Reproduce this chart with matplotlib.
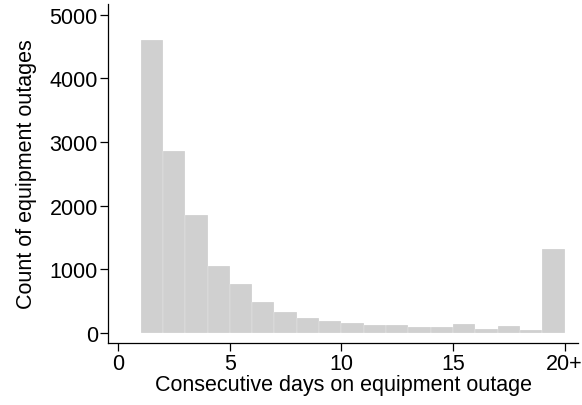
import matplotlib.pyplot as plt
import numpy as np

plt.rcParams['font.family'] = ['Liberation Sans', 'DejaVu Sans']

# bin left edges (days), last bin is 20+
bin_left = np.arange(1, 20)
counts = [4604, 2862, 1857, 1057, 774, 491, 334, 240, 195,
          162, 130, 130, 99, 99, 146, 67, 115, 58, 1323]
xtick_vals = [0, 5, 10, 15, 20]
xtick_labels = ['0', '5', '10', '15', '20+']
ytick_vals = [0, 1000, 2000, 3000, 4000, 5000]

fig = plt.figure(figsize=(5.82, 4.06), dpi=100)
ax = fig.add_axes([0.186, 0.153, 0.807, 0.835])

ax.bar(bin_left, counts, width=1.0, align='edge', color='#d0d0d0',
       edgecolor='white', linewidth=0.15)

ax.set_xlim(-0.45, 20.6)
ax.set_ylim(-152, 5170)
ax.set_xticks(xtick_vals)
ax.set_xticklabels(xtick_labels)
ax.set_yticks(ytick_vals)

ax.spines['top'].set_visible(False)
ax.spines['right'].set_visible(False)
for s in ('left', 'bottom'):
    ax.spines[s].set_linewidth(0.9)

ax.tick_params(axis='both', labelsize=15.5, length=5.5, width=0.9, pad=2)
ax.set_xlabel('Consecutive days on equipment outage', fontsize=15.5, labelpad=0)
ax.set_ylabel('Count of equipment outages', fontsize=15.5, labelpad=9)

fig.savefig('out.png', dpi=100)
